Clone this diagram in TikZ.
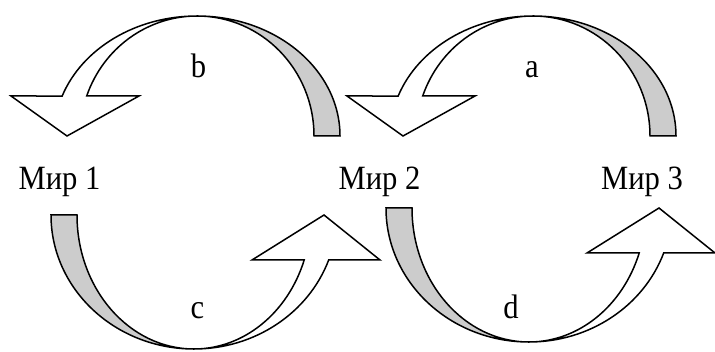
\documentclass[tikz,border=0pt]{standalone}
\usepackage{fontspec}
\setmainfont{Liberation Serif}
\newfontfamily\narrowserif[FakeStretch=0.9]{Liberation Serif}
\begin{document}
\begin{tikzpicture}[x=1pt,y=1pt,line join=miter,
  back/.style={draw,line width=1.5pt,fill=gray!40},
  front/.style={draw,line width=1.5pt,fill=white},
  world/.style={anchor=base,font=\narrowserif\fontsize{34}{40}\selectfont},
  tag/.style={anchor=base,font=\narrowserif\fontsize{34}{40}\selectfont}]
  \useasboundingbox (0,0) rectangle (715,351);
  % centres of the four bent arrows
  \coordinate (cb) at (197,215);
  \coordinate (ca) at (533,215);
  \coordinate (cc) at (194,136);
  \coordinate (cd) at (529,143);
  % b: Mir 2 -> Mir 1
  \begin{scope}[shift={(cb)}]
    \path[back] (143,0) arc[start angle=0,end angle=90,x radius=143,y radius=120]
      arc[start angle=90,end angle=0,x radius=117,y radius=120] -- cycle;
    \path[front] (0,120) arc[start angle=90,end angle=160.53,x radius=143,y radius=120]
      -- (-186,40) -- (-130,0) -- (-58,40) -- (-110.3,40)
      arc[start angle=160.53,end angle=90,x radius=117,y radius=120] -- cycle;
  \end{scope}
  % a: Mir 3 -> Mir 2
  \begin{scope}[shift={(ca)}]
    \path[back] (143,0) arc[start angle=0,end angle=90,x radius=143,y radius=120]
      arc[start angle=90,end angle=0,x radius=117,y radius=120] -- cycle;
    \path[front] (0,120) arc[start angle=90,end angle=160.53,x radius=143,y radius=120]
      -- (-186,40) -- (-130,0) -- (-58,40) -- (-110.3,40)
      arc[start angle=160.53,end angle=90,x radius=117,y radius=120] -- cycle;
  \end{scope}
  % c: Mir 1 -> Mir 2
  \begin{scope}[shift={(cc)}]
    \path[back] (-143,0) arc[start angle=180,end angle=270,x radius=143,y radius=134]
      arc[start angle=270,end angle=180,x radius=117,y radius=134] -- cycle;
    \path[front] (0,-134) arc[start angle=270,end angle=340.38,x radius=143,y radius=134]
      -- (186,-45) -- (130,0) -- (58,-45) -- (110.2,-45)
      arc[start angle=340.38,end angle=270,x radius=117,y radius=134] -- cycle;
  \end{scope}
  % d: Mir 2 -> Mir 3
  \begin{scope}[shift={(cd)}]
    \path[back] (-143,0) arc[start angle=180,end angle=270,x radius=143,y radius=134]
      arc[start angle=270,end angle=180,x radius=117,y radius=134] -- cycle;
    \path[front] (0,-134) arc[start angle=270,end angle=340.38,x radius=143,y radius=134]
      -- (186,-45) -- (130,0) -- (58,-45) -- (110.2,-45)
      arc[start angle=340.38,end angle=270,x radius=117,y radius=134] -- cycle;
  \end{scope}
  % worlds
  \node[world] (mir1) at (59.5,161.7) {Мир 1};
  \node[world] (mir2) at (379.5,161.7) {Мир 2};
  \node[world] (mir3) at (642,161.7) {Мир 3};
  % letters
  \node[tag] (lb) at (198.5,273) {b};
  \node[tag] (la) at (532,273) {a};
  \node[tag] (lc) at (197.5,33) {c};
  \node[tag] (ld) at (511,33) {d};
\end{tikzpicture}
\end{document}
